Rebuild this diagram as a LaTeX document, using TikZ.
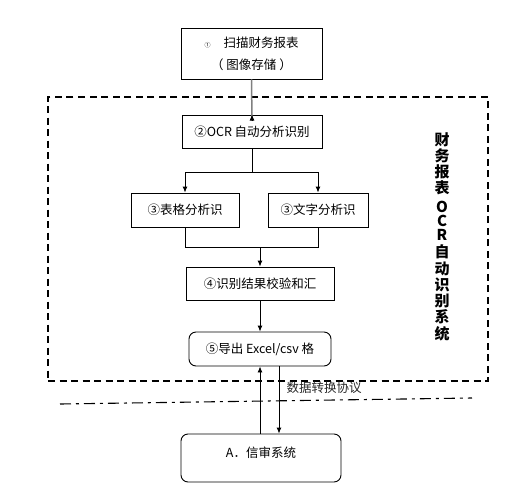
\documentclass[tikz,border=0pt]{standalone}
\usepackage{fontspec}
\setmainfont{Noto Sans CJK SC}
\usetikzlibrary{arrows.meta}
\begin{document}
\begin{tikzpicture}[x=1pt,y=-1pt,
  every node/.style={font=\fontsize{12.5}{15}\selectfont},
  boxnode/.style={draw=black,line width=0.9pt,inner sep=0pt,align=center},
  rbox/.style={boxnode,rounded corners=7pt},
  conn/.style={line width=0.9pt,draw=black},
  arr/.style={conn,-{Latex[length=6pt,width=5pt]}},
  frame/.style={draw=black,line width=1.2pt,dash pattern=on 7pt off 4.5pt,inner sep=0pt},
  dashdot/.style={draw=black,line width=1.1pt,dash pattern=on 11pt off 5pt on 3pt off 5pt}]
\useasboundingbox (0,0) rectangle (520,496);
% outer dashed frame
\node[frame,minimum width=440pt,minimum height=284pt] (frm) at (268,239) {};
% boxes
\node[boxnode,minimum width=141pt,minimum height=51pt,font=\fontsize{12.5}{22}\selectfont] (b1) at (251.5,53.5)
  {{\fontsize{6}{6}\selectfont ①}\hspace{13pt}扫描财务报表\\（\hspace{3pt}图像存储\hspace{3pt}）};
\node[boxnode,minimum width=140pt,minimum height=33pt] (b2) at (252,131.5) {②OCR 自动分析识别};
\node[boxnode,minimum width=108pt,minimum height=34pt] (b3a) at (185,210) {③表格分析识};
\node[boxnode,minimum width=100pt,minimum height=34pt] (b3b) at (318,210) {③文字分析识};
\node[boxnode,minimum width=148pt,minimum height=33pt] (b4) at (260,283.5) {④识别结果校验和汇};
\node[rbox,minimum width=142pt,minimum height=34pt] (b5) at (260,349) {⑤导出 Excel/csv 格};
\node[rbox,minimum width=160pt,text height=23pt,text depth=25pt,text width=160pt] (bA) at (261,458) {A．信审系统};
% vertical title
\node[font=\fontsize{15}{16.3}\selectfont\bfseries,align=center,inner sep=0pt] (vt) at (442,236.5)
  {财\\务\\报\\表\\[2.4pt]O\\[-2.6pt]C\\[-2.6pt]R\\[1.4pt]自\\动\\识\\别\\系\\统};
% label
\node[inner sep=0pt,text=black!85] (lbl) at (324,388) {数据转换协议};
% dash-dot line
\coordinate (dl1) at (60,404);
\coordinate (dl2) at (472,398);
\draw[dashdot] (dl1) -- (dl2);
% connectors
\draw[line width=1.5pt,draw=black!50] (b1.south) -- ([yshift=-6pt]b2.north);
\draw[-{Latex[length=6pt,width=5pt]},line width=0.9pt] ([yshift=-6.5pt]b2.north) -- (b2.north);
\coordinate (j1) at (252,172);
\draw[conn] (b2.south) -- (j1);
\draw[arr] (j1) -| (b3a.north);
\draw[arr] (j1) -| (b3b.north);
\coordinate (j2) at (260,247);
\draw[conn] (b3a.south) |- (j2);
\draw[conn] (b3b.south) |- (j2);
\draw[arr] (j2) -- (b4.north);
\draw[arr] (b4.south) -- (b5.north);
\draw[arr] (bA.north -| b5.south) -- (b5.south);
\draw[arr] ([xshift=19pt]b5.south) -- ([xshift=19pt]b5.south |- bA.north);
\end{tikzpicture}
\end{document}
